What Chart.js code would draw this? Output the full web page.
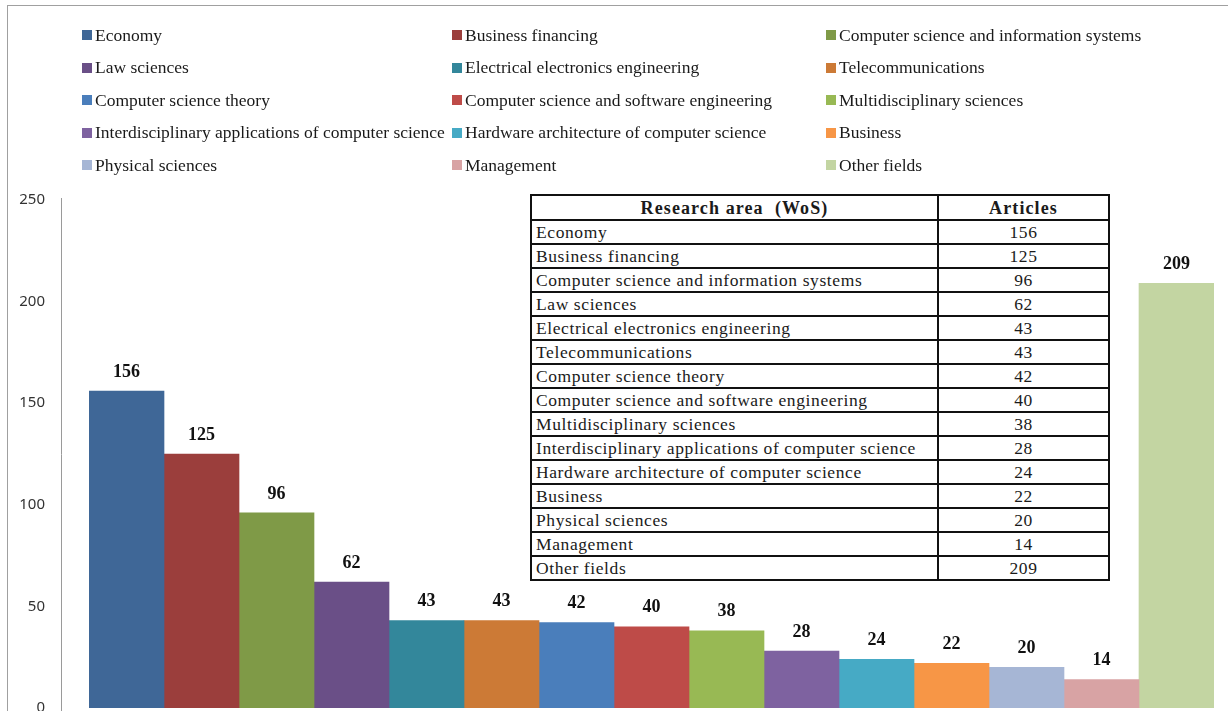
<!DOCTYPE html>
<html>
<head>
<meta charset="utf-8">
<script src="https://cdn.jsdelivr.net/npm/chart.js@4"></script>
<style>
  html, body { margin: 0; padding: 0; background: #fff; }
  #wrap { position: relative; width: 1228px; height: 711px; overflow: hidden; }
  #frame { position: absolute; left: 7px; top: 5px; width: 1240px; height: 720px; border-left: 1px solid #a0a0a0; border-top: 1px solid #a0a0a0; }
  #box { position: absolute; left: 0; top: 0; width: 1228px; height: 711px; }
  #legend { position: absolute; left: 82px; top: 19px; display: grid; grid-template-columns: 370px 374px 380px; grid-auto-rows: 32.5px;
    font-family: "Liberation Serif", "Times New Roman", serif; font-size: 17.5px; color: #1a1a1a; }
  #legend div { display: flex; align-items: center; white-space: nowrap; }
  #legend span.sw { width: 10px; height: 10px; margin-right: 3px; flex: none; }
  #tbl { position: absolute; left: 530px; top: 194px; border-collapse: collapse; border: 2px solid #111; table-layout: fixed;
    font-family: "Liberation Serif", "Times New Roman", serif; font-size: 17.5px; letter-spacing: 0.6px; color: #1a1a1a; background: #fff; }
  #tbl th, #tbl td { border: 2px solid #111; padding: 0 4px; height: 22px; line-height: 20px; white-space: nowrap; overflow: hidden; }
  #tbl th { font-weight: bold; text-align: center; height: 23px; font-size: 18px; letter-spacing: 1.1px; }
  #tbl td.n { text-align: center; }
  #tbl col.a { width: 407px; }
  #tbl col.b { width: 171px; }
</style>
</head>
<body>
<div id="wrap">
  <div id="frame"></div>
  <div id="box"><canvas id="chart"></canvas></div>
  <div id="legend"></div>
  <table id="tbl">
    <colgroup><col class="a"><col class="b"></colgroup>
    <thead><tr><th>Research area&nbsp; (WoS)</th><th>Articles</th></tr></thead>
    <tbody></tbody>
  </table>
</div>
<script>
// research areas (WoS) and article counts
const areas = [
  'Economy',
  'Business financing',
  'Computer science and information systems',
  'Law sciences',
  'Electrical electronics engineering',
  'Telecommunications',
  'Computer science theory',
  'Computer science and software engineering',
  'Multidisciplinary sciences',
  'Interdisciplinary applications of computer science',
  'Hardware architecture of computer science',
  'Business',
  'Physical sciences',
  'Management',
  'Other fields'
];
const articles = [156, 125, 96, 62, 43, 43, 42, 40, 38, 28, 24, 22, 20, 14, 209];
const barColors = [
  '#3F6797', '#9B3E3C', '#7F9A47', '#6A4F87', '#33879B',
  '#CC7A36', '#4A7EBB', '#BE4B48', '#98B954', '#7E62A0',
  '#46AAC5', '#F79646', '#A6B6D5', '#D8A3A4', '#C3D5A2'
];
const yTicks = [0, 50, 100, 150, 200, 250];

// legend (3 columns, row-major like the original)
const legendEl = document.getElementById('legend');
areas.forEach((name, i) => {
  const item = document.createElement('div');
  item.innerHTML = '<span class="sw" style="background:' + barColors[i] + '"></span>' + name;
  legendEl.appendChild(item);
});

// inset table
const tbody = document.querySelector('#tbl tbody');
areas.forEach((name, i) => {
  const tr = document.createElement('tr');
  tr.innerHTML = '<td>' + name + '</td><td class="n">' + articles[i] + '</td>';
  tbody.appendChild(tr);
});

// one dataset per area so each bar gets its own colour / legend entry
const datasets = areas.map((name, i) => ({
  label: name,
  data: articles.map((v, j) => (j === i ? v : null)),
  backgroundColor: barColors[i],
  borderWidth: 0,
  barPercentage: 1,
  categoryPercentage: 1
}));

// value labels above bars
const barLabels = {
  id: 'barLabels',
  afterDatasetsDraw(chart) {
    const ctx = chart.ctx;
    ctx.save();
    ctx.font = 'bold 18px "Liberation Serif", "Times New Roman", serif';
    ctx.fillStyle = '#111';
    ctx.textAlign = 'center';
    ctx.textBaseline = 'middle';
    chart.data.datasets.forEach((ds, i) => {
      const el = chart.getDatasetMeta(i).data[i];
      if (el) ctx.fillText(String(ds.data[i]), el.x, el.y - 19);
    });
    ctx.restore();
  }
};
// y axis line sits a bit left of the first bar
const axisLine = {
  id: 'axisLine',
  beforeDatasetsDraw(chart) {
    const { ctx, chartArea } = chart;
    const x = chartArea.left - 27.5;
    ctx.save();
    ctx.strokeStyle = '#9a9a9a';
    ctx.lineWidth = 1;
    ctx.beginPath();
    ctx.moveTo(x, chartArea.top - 2);
    ctx.lineTo(x, chartArea.bottom + 3);
    ctx.stroke();
    ctx.restore();
  }
};

new Chart(document.getElementById('chart'), {
  type: 'bar',
  data: { labels: areas, datasets: datasets },
  options: {
    responsive: true,
    maintainAspectRatio: false,
    animation: false,
    layout: { padding: { top: 200, right: 14, bottom: 3, left: 0 } },
    plugins: { legend: { display: false }, tooltip: { enabled: false } },
    scales: {
      x: {
        stacked: true,
        display: false,
        grid: { display: false }
      },
      y: {
        min: 0,
        max: 250,
        afterFit(scale) {
          scale.width = 89;
          // tick padding is horizontal only here
          scale.paddingTop = 0;
          scale.paddingBottom = 0;
        },
        afterBuildTicks(scale) { scale.ticks = yTicks.map(v => ({ value: v })); },
        grid: { display: false, drawTicks: false },
        border: { display: false },
        ticks: {
          padding: 44,
          color: '#333',
          font: { family: '"Noto Sans", "Liberation Sans", sans-serif', size: 15 }
        }
      }
    }
  },
  plugins: [axisLine, barLabels]
});
</script>
</body>
</html>
